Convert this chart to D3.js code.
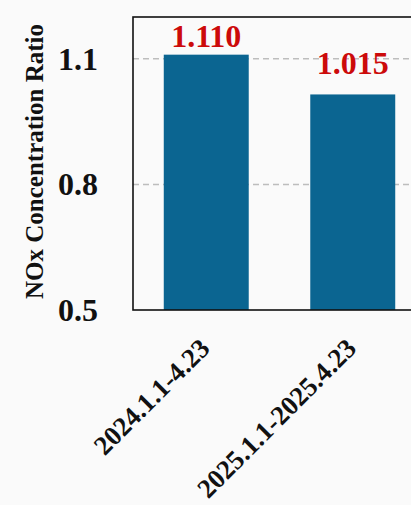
<!DOCTYPE html>
<html>
<head>
<meta charset="utf-8">
<script src="https://cdn.jsdelivr.net/npm/d3@7"></script>
<style>
  html, body { margin: 0; padding: 0; background: #fafafa; }
  svg { display: block; }
</style>
</head>
<body>
<svg id="chart" width="411" height="505"></svg>
<script>
const categories = ["2024.1.1-4.23", "2025.1.1-2025.4.23"];
const values = [1.110, 1.015];
const valueLabels = ["1.110", "1.015"];
const yTicks = [0.5, 0.8, 1.1];
const gridTicks = [0.8, 1.1];
const yDomain = [0.5, 1.2];
const yTitle = "NOx Concentration Ratio";

const svg = d3.select("#chart");
const W = 411, H = 505;
svg.append("rect").attr("width", W).attr("height", H).attr("fill", "#fafafa");

const plot = { left: 133, top: 17, right: 426, bottom: 310 };
const font = "'Liberation Serif', 'Times New Roman', serif";

const x = d3.scaleBand().domain(categories)
  .range([plot.left, plot.right]).paddingInner(0.42).paddingOuter(0.21);
const y = d3.scaleLinear().domain(yDomain).range([plot.bottom, plot.top]);

// gridlines
svg.append("g").selectAll("line").data(gridTicks).join("line")
  .attr("x1", plot.left).attr("x2", plot.right)
  .attr("y1", d => y(d)).attr("y2", d => y(d))
  .attr("stroke", "#bdbdbd").attr("stroke-width", 1.5)
  .attr("stroke-dasharray", "6,4");

// bars
svg.append("g").selectAll("rect").data(values).join("rect")
  .attr("x", (d, i) => x(categories[i]))
  .attr("width", x.bandwidth())
  .attr("y", d => y(d))
  .attr("height", d => y(yDomain[0]) - y(d))
  .attr("fill", "#0b6591");

// frame
svg.append("rect")
  .attr("x", plot.left).attr("y", plot.top)
  .attr("width", plot.right - plot.left).attr("height", plot.bottom - plot.top)
  .attr("fill", "none").attr("stroke", "#111").attr("stroke-width", 1.6);

// value labels
svg.append("g").selectAll("text").data(values).join("text")
  .attr("x", (d, i) => x(categories[i]) + x.bandwidth() / 2)
  .attr("y", d => Math.max(y(d) - 20, plot.top + 30))
  .attr("text-anchor", "middle")
  .attr("font-family", font).attr("font-weight", "bold")
  .attr("font-size", 32).attr("fill", "#cc0a0a")
  .text((d, i) => valueLabels[i]);

// y axis
const yAxis = svg.append("g")
  .attr("transform", `translate(${plot.left},0)`)
  .call(d3.axisLeft(y).tickValues(yTicks).tickSize(0).tickPadding(35).tickFormat(d3.format(".1f")));
yAxis.select(".domain").remove();
yAxis.selectAll("text")
  .attr("font-family", font).attr("font-weight", "bold")
  .attr("font-size", 32).attr("fill", "#111");

// x axis labels
const xAxis = svg.append("g")
  .attr("transform", `translate(0,${plot.bottom})`)
  .call(d3.axisBottom(x).tickSize(0).tickPadding(0));
xAxis.select(".domain").remove();
xAxis.selectAll("text")
  .attr("font-family", font).attr("font-weight", "bold")
  .attr("font-size", 27).attr("fill", "#111")
  .attr("text-anchor", "end")
  .attr("dy", 0).attr("y", 0)
  .attr("transform", "translate(5,40) rotate(-45)");

// y title
svg.append("text")
  .attr("transform", "rotate(-90)")
  .attr("x", -(plot.top + plot.bottom) / 2 + 2)
  .attr("y", 43)
  .attr("text-anchor", "middle")
  .attr("font-family", font).attr("font-weight", "bold")
  .attr("font-size", 25).attr("fill", "#111")
  .text(yTitle);
</script>
</body>
</html>
